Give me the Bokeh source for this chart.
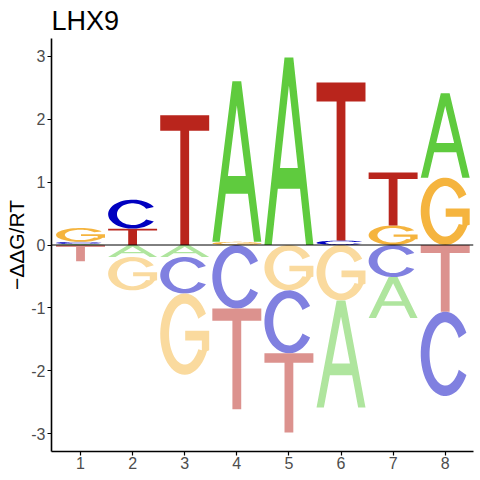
import numpy as np
from bokeh.plotting import figure
from bokeh.models import Range1d, FixedTicker, Span, ColumnDataSource
from bokeh.embed import file_html
from bokeh.resources import INLINE

# ---------------- data ----------------
title_text = "LHX9"
y_label = "\u2212\u0394\u0394G/RT"
positions = [1, 2, 3, 4, 5, 6, 7, 8]
x_tick_labels = ["1", "2", "3", "4", "5", "6", "7", "8"]
y_ticks = [-3, -2, -1, 0, 1, 2, 3]
y_tick_labels = ["-3", "-2", "-1", "0", "1", "2", "3"]

# positive contributions (stacked upward)
A_up = [0.015, 0.0, 0.0, 2.55, 2.98, 0.0, 0.0, 1.34]
C_up = [0.035, 0.46, 0.0, 0.0, 0.0, 0.07, 0.0, 0.0]
G_up = [0.22, 0.0, 0.0, 0.05, 0.0, 0.0, 0.31, 1.07]
T_up = [0.0, 0.26, 2.06, 0.0, 0.0, 2.51, 0.84, 0.0]
# negative contributions (stacked downward, magnitudes)
A_dn = [0.0, 0.19, 0.19, 0.0, 0.0, 1.70, 0.65, 0.0]
C_dn = [0.0, 0.0, 0.58, 1.01, 1.00, 0.0, 0.51, 1.34]
G_dn = [0.0, 0.53, 1.29, 0.0, 0.72, 0.88, 0.0, 0.0]
T_dn = [0.26, 0.0, 0.0, 1.60, 1.26, 0.0, 0.0, 1.06]

letter_colors = {"A": "#5FCB3E", "C": "#0000C0", "G": "#F5B43E", "T": "#B9251C"}

# ---------------- letter shapes (unit box) ----------------
def arc(rx, ry, a0, a1, n=48):
    t = np.radians(np.linspace(a0, a1, n))
    return list(zip(0.5 + rx * np.cos(t), 0.5 + ry * np.sin(t)))

def shape(letter):
    if letter == "A":
        outer = [(0, 0), (0.15, 0), (0.273, 0.30), (0.727, 0.30), (0.85, 0),
                 (1, 0), (0.59, 1), (0.41, 1)]
        hole = [(0.318, 0.41), (0.682, 0.41), (0.5, 0.85)]
        return [outer, hole]
    if letter == "T":
        return [[(0.41, 0), (0.59, 0), (0.59, 0.88), (1, 0.88), (1, 1),
                 (0, 1), (0, 0.88), (0.41, 0.88)]]
    if letter == "C":
        return [arc(0.5, 0.5, 30, 330) + arc(0.32, 0.375, 330, 30)]
    if letter == "G":
        extra = [(1.0, 0.30), (1.0, 0.54), (0.51, 0.54), (0.51, 0.42),
                 (0.85, 0.42), (0.85, 0.30)]
        return [arc(0.5, 0.5, 30, 335) + extra + arc(0.32, 0.375, 330, 30)]

def lighten(hexcol, f=0.5):
    r, g, b = (int(hexcol[i:i + 2], 16) for i in (1, 3, 5))
    r, g, b = (round(c + (255 - c) * f) for c in (r, g, b))
    return "#%02X%02X%02X" % (r, g, b)

up = {"A": A_up, "C": C_up, "G": G_up, "T": T_up}
dn = {"A": A_dn, "C": C_dn, "G": G_dn, "T": T_dn}
W = 0.94

xs, ys, cols = [], [], []
def place(letter, xc, y0, h, col):
    rings_x, rings_y = [], []
    for ring in shape(letter):
        u = np.array([p[0] for p in ring]); v = np.array([p[1] for p in ring])
        rings_x.append(list(xc - W / 2 + u * W))
        rings_y.append(list(y0 + v * h))
    xs.append([rings_x]); ys.append([rings_y]); cols.append(col)

for i, xc in enumerate(positions):
    stack = sorted([(up[L][i], L) for L in up if up[L][i] > 0])
    cum = 0.0
    for h, L in stack:
        place(L, xc, cum, h, letter_colors[L]); cum += h
    stack = sorted([(dn[L][i], L) for L in dn if dn[L][i] > 0])
    cum = 0.0
    for h, L in stack:
        place(L, xc, -(cum + h), h, lighten(letter_colors[L])); cum += h

src = ColumnDataSource(dict(xs=xs, ys=ys, color=cols))

# ---------------- figure ----------------
p = figure(width=480, height=480, x_range=Range1d(0.443, 8.543), y_range=Range1d(-3.28, 3.28),
           output_backend="svg", toolbar_location=None, title=title_text,
           min_border_left=51, min_border_right=7, min_border_top=37, min_border_bottom=29)
p.multi_polygons(xs="xs", ys="ys", source=src, fill_color="color", line_color=None)
p.add_layout(Span(location=0, dimension="width", line_color="black", line_width=1))

p.outline_line_color = None
p.grid.visible = False
p.background_fill_color = "white"

p.title.text_font = "Liberation Sans"
p.title.text_font_size = "27px"
p.title.text_font_style = "normal"
p.title.text_color = "black"
p.title.align = "left"
p.title.standoff = 6

for ax in (p.xaxis[0], p.yaxis[0]):
    ax.axis_line_color = "black"
    ax.axis_line_width = 1.6
    ax.major_tick_line_color = "black"
    ax.major_tick_line_width = 1.2
    ax.major_tick_in = 0
    ax.major_tick_out = 4
    ax.minor_tick_line_color = None
    ax.major_label_text_color = "#4D4D4D"
    ax.major_label_text_font = "Liberation Sans"
    ax.major_label_text_font_size = "16px"
p.xaxis.ticker = FixedTicker(ticks=positions)
p.xaxis.major_label_overrides = {k: v for k, v in zip(positions, x_tick_labels)}
p.xaxis.major_label_standoff = 1
p.yaxis.ticker = FixedTicker(ticks=y_ticks)
p.yaxis.major_label_overrides = {k: v for k, v in zip(y_ticks, y_tick_labels)}
p.yaxis.major_label_standoff = 2
p.yaxis.axis_label = y_label
p.yaxis.axis_label_text_font = "Liberation Sans"
p.yaxis.axis_label_text_font_size = "21px"
p.yaxis.axis_label_text_font_style = "normal"
p.yaxis.axis_label_text_color = "black"
p.yaxis.axis_label_standoff = 0

open("out.html", "w").write(file_html(p, INLINE))
